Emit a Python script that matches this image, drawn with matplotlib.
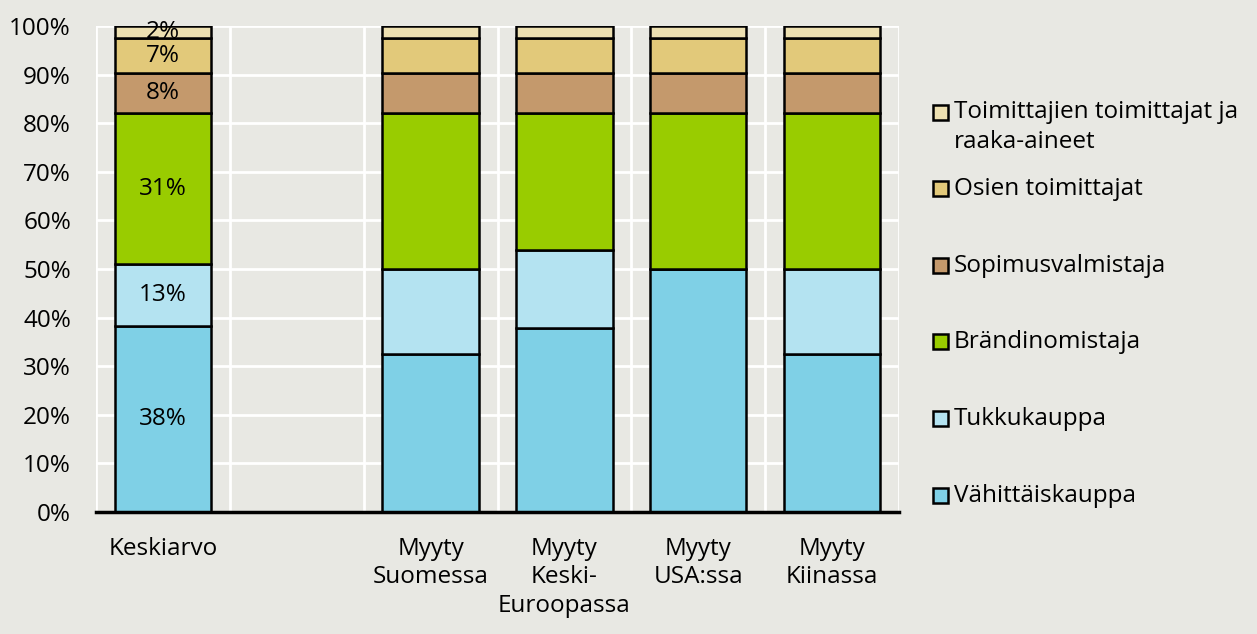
import matplotlib.pyplot as plt
import matplotlib.patches as mp
import numpy as np

plt.rcParams['font.family'] = ['Open Sans', 'DejaVu Sans']

cats = ['Keskiarvo', '', 'Myyty\nSuomessa', 'Myyty\nKeski-\nEuroopassa', 'Myyty\nUSA:ssa', 'Myyty\nKiinassa']
names = ['Vähittäiskauppa', 'Tukkukauppa', 'Brändinomistaja', 'Sopimusvalmistaja',
         'Osien toimittajat', 'Toimittajien toimittajat ja\nraaka-aineet']
colors = ['#7fd0e6', '#b4e3f1', '#99cc00', '#c4996c', '#e2c97a', '#ede0b1']
# shares per category (%), nan = empty slot
vahittais = [38.3, np.nan, 32.6, 37.9, 50.0, 32.6]
tukku = [12.7, np.nan, 17.4, 16.0, 0.0, 17.4]
brandi = [31.0, np.nan, 32.0, 28.1, 32.0, 32.0]
sopimus = [8.3, np.nan, 8.3, 8.3, 8.3, 8.3]
osien = [7.2, np.nan, 7.2, 7.2, 7.2, 7.2]
toimittajien = [2.5, np.nan, 2.5, 2.5, 2.5, 2.5]
labels = ['38%', '13%', '31%', '8%', '7%', '2%']

series = [vahittais, tukku, brandi, sopimus, osien, toimittajien]
bg = '#e8e8e3'
fs = 17.5

fig = plt.figure(figsize=(12.57, 6.34), dpi=100, facecolor=bg)
ax = fig.add_axes([0.0764, 0.1924, 0.6388, 0.7666], facecolor=bg)

x = np.arange(len(cats))
bottom = np.zeros(len(cats))
for i, s in enumerate(series):
    v = np.array(s, dtype=float)
    ax.bar(x, np.nan_to_num(v), 0.72, bottom=bottom, color=colors[i],
           edgecolor='black', linewidth=1.8, zorder=3)
    ax.text(x[0], bottom[0] + v[0] / 2, labels[i], ha='center', va='center',
            fontsize=fs, zorder=4)
    bottom = bottom + np.nan_to_num(v)

ax.set_xlim(-0.5, len(cats) - 0.5)
ax.set_ylim(0, 100)
ax.set_yticks(np.arange(0, 101, 10))
ax.set_yticklabels(['{}%'.format(t) for t in range(0, 101, 10)], fontsize=fs)
ax.set_xticks(np.arange(-0.5, len(cats), 1), minor=True)
ax.set_xticks(x)
ax.set_xticklabels(cats, fontsize=fs, linespacing=1.24, va='top')
ax.tick_params(axis='both', which='both', length=0)
ax.tick_params(axis='x', pad=18)
ax.tick_params(axis='y', pad=18)
ax.grid(axis='y', which='major', color='white', linewidth=2, zorder=0)
ax.grid(axis='x', which='minor', color='white', linewidth=2, zorder=0)
ax.grid(axis='x', which='major', visible=False)
for sp in ['left', 'right', 'top']:
    ax.spines[sp].set_visible(False)
ax.spines['bottom'].set_linewidth(2.5)
ax.spines['bottom'].set_zorder(5)

# legend, drawn manually, top entry first
ys = [112, 188, 265, 341, 418, 495]
for k, yy in enumerate(ys):
    i = len(names) - 1 - k
    fy = 1 - yy / 634
    fig.patches.append(mp.Rectangle((933 / 1257, fy - 7.5 / 634), 15 / 1257, 15 / 634,
                                    transform=fig.transFigure, facecolor=colors[i],
                                    edgecolor='black', linewidth=1.8))
    if k == 0:
        fig.text(954 / 1257, fy + 12 / 634, names[i], fontsize=fs, va='top', linespacing=1.32)
    else:
        fig.text(954 / 1257, fy - 1 / 634, names[i], fontsize=fs, va='center')

fig.savefig('out.png', dpi=100, facecolor=bg)
